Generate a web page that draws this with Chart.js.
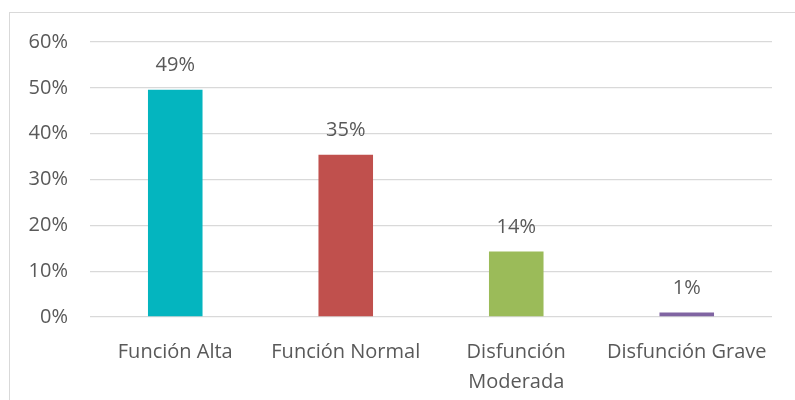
<!DOCTYPE html>
<html>
<head>
<meta charset="utf-8">
<script src="https://cdn.jsdelivr.net/npm/chart.js@4"></script>
<style>
  html, body { margin: 0; padding: 0; background: #fff; }
  #wrap { position: relative; width: 795px; height: 400px; overflow: hidden; }
  #marco { position: absolute; left: 9px; top: 12px; width: 800px; height: 400px; border: 1px solid #d9d9d9; box-sizing: border-box; }
  canvas { position: absolute; left: 0; top: 0; }
</style>
</head>
<body>
<div id="wrap">
  <div id="marco"></div>
  <canvas id="grafico" width="795" height="400"></canvas>
</div>
<script>
// Datos
const categorias = ['Función Alta', 'Función Normal', ['Disfunción', 'Moderada'], 'Disfunción Grave'];
const porcentajes = [49.6, 35.4, 14.3, 1.0];
const etiquetas = ['49%', '35%', '14%', '1%'];
const colores = ['#04b5bf', '#c0504d', '#9bbb59', '#8064a2'];

const fuente = "'Open Sans', sans-serif";
const gris = '#595959';

// Etiquetas encima de las barras
const etiquetasBarras = {
  id: 'etiquetasBarras',
  afterDatasetsDraw(chart) {
    const ctx = chart.ctx;
    const meta = chart.getDatasetMeta(0);
    ctx.save();
    ctx.font = '20px ' + fuente;
    ctx.fillStyle = gris;
    ctx.textAlign = 'center';
    ctx.textBaseline = 'bottom';
    meta.data.forEach((bar, i) => {
      ctx.fillText(etiquetas[i], bar.x, bar.y - 14);
    });
    ctx.restore();
  }
};

new Chart(document.getElementById('grafico'), {
  type: 'bar',
  data: {
    labels: categorias,
    datasets: [{
      data: porcentajes,
      backgroundColor: colores,
      categoryPercentage: 1,
      barPercentage: 0.32
    }]
  },
  options: {
    responsive: false,
    animation: false,
    layout: { padding: { top: 42, right: 23, left: 0, bottom: 0 } },
    plugins: {
      legend: { display: false },
      tooltip: { enabled: false }
    },
    scales: {
      x: {
        grid: { display: false },
        border: { display: false },
        ticks: {
          color: gris,
          font: { family: fuente, size: 20, lineHeight: 1.5 },
          padding: 12,
          maxRotation: 0
        },
        afterFit: s => { s.height = 83; }
      },
      y: {
        min: 0,
        max: 60,
        border: { display: false },
        grid: { color: '#d9d9d9', lineWidth: 1.3, drawTicks: false },
        ticks: {
          stepSize: 10,
          color: gris,
          font: { family: fuente, size: 20 },
          padding: 22,
          callback: v => v + '%'
        },
        afterFit: s => { s.width = 90; }
      }
    }
  },
  plugins: [etiquetasBarras]
});
</script>
</body>
</html>
